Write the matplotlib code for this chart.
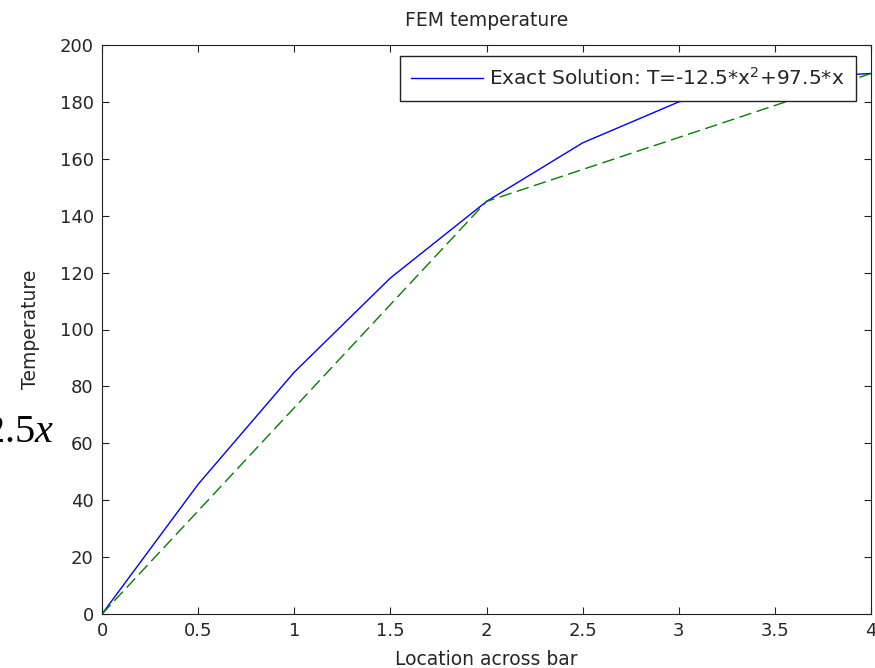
import matplotlib
matplotlib.use('Agg')
import matplotlib.pyplot as plt

# data
x_exact = [0, 0.5, 1, 1.5, 2, 2.5, 3, 3.5, 4]
T_exact = [0, 45.6, 85, 118.1, 145, 165.6, 180, 188.1, 190]
x_fem = [0, 2, 4]
T_fem = [0, 145, 190]
xticks = [0, 0.5, 1, 1.5, 2, 2.5, 3, 3.5, 4]
yticks = [0, 20, 40, 60, 80, 100, 120, 140, 160, 180, 200]

plt.rcParams['font.family'] = ['DejaVu Sans']
plt.rcParams['mathtext.fontset'] = 'custom'
plt.rcParams['mathtext.rm'] = 'Liberation Serif'
plt.rcParams['mathtext.it'] = 'Liberation Serif:italic'
plt.rcParams['mathtext.sf'] = 'DejaVu Sans'

fig = plt.figure(figsize=(8.75, 6.68), dpi=100)
ax = fig.add_axes([102 / 875, 1 - 614 / 668, (871 - 102) / 875, (614 - 45) / 668])

tc = '#262626'
ax.plot(x_exact, T_exact, color='#0000ff', lw=1,
        label=r'Exact Solution: T=-12.5*x$^{\mathsf{2}}$+97.5*x')
ax.plot(x_fem, T_fem, color='#008000', lw=1, linestyle=(0, (9, 4)))

ax.set_xlim(0, 4)
ax.set_ylim(0, 200)
ax.set_xticks(xticks)
ax.set_xticklabels([f'{v:g}' for v in xticks])
ax.set_yticks(yticks)
ax.tick_params(direction='in', length=5, width=0.8, top=True, right=True,
               labelsize=13, colors='#222222', labelcolor=tc, pad=6)
for s in ax.spines.values():
    s.set_linewidth(0.8)
    s.set_color('#222222')

ax.set_title('FEM temperature', fontsize=13.5, color=tc, pad=14)
ax.set_xlabel('Location across bar', fontsize=13.5, color=tc, labelpad=7)
ax.set_ylabel('Temperature', fontsize=13.5, color=tc, labelpad=14)

leg = ax.legend(loc='upper right', bbox_to_anchor=(856 / 875, 1 - 56 / 668),
                bbox_transform=fig.transFigure, borderaxespad=0,
                fancybox=False, framealpha=1, edgecolor='#222222',
                fontsize=14.5, handlelength=3.55, handletextpad=0.3,
                borderpad=0.58)
leg.get_frame().set_linewidth(1.0)
for t in leg.get_texts():
    t.set_color(tc)

# stray fragment of an equation image at the left edge
fig.text(54 / 875, 1 - 442 / 668, r'$2.5x$', fontsize=29, ha='right',
         va='baseline', color='black')

fig.savefig('out.png', dpi=100)
